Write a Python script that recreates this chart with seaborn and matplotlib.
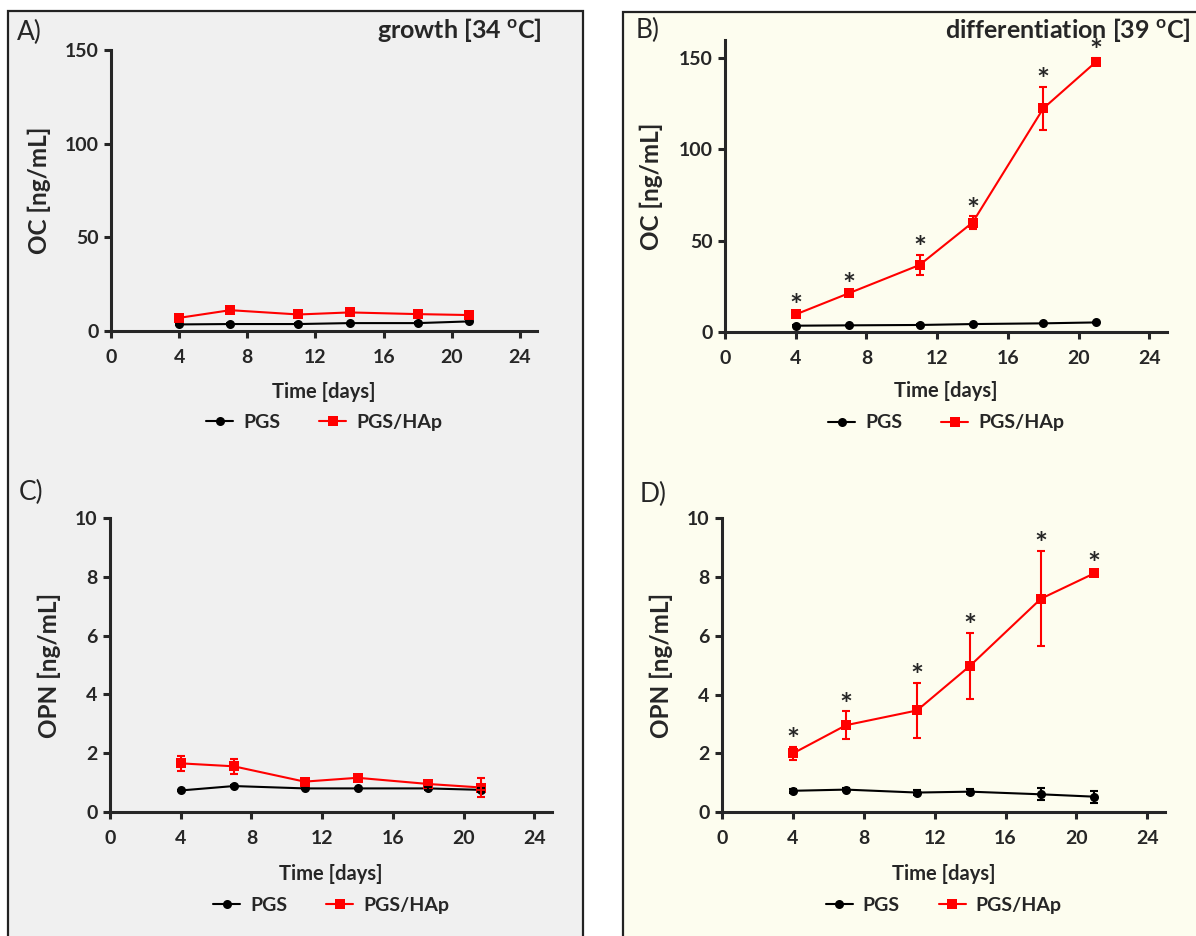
import pandas as pd
import numpy as np
import seaborn as sns
import matplotlib.pyplot as plt
from matplotlib.patches import Rectangle

# Time points
days = [4, 7, 11, 14, 18, 21]
groups = ['PGS', 'PGS/HAp']

# OC, growth [34 C]
oc_growth_pgs = [3.5, 3.7, 3.7, 4.2, 4.2, 5.1]
oc_growth_pgs_sd = [0.3, 0.3, 0.3, 0.3, 0.5, 0.4]
oc_growth_hap = [7.0, 11.1, 8.8, 9.9, 9.0, 8.5]
oc_growth_hap_sd = [0.6, 0.8, 0.5, 0.7, 0.5, 0.6]

# OC, differentiation [39 C]
oc_diff_pgs = [3.3, 3.5, 3.7, 4.2, 4.6, 5.1]
oc_diff_pgs_sd = [0.3, 0.3, 0.3, 0.3, 0.4, 0.4]
oc_diff_hap = [9.5, 21.1, 36.6, 59.9, 122.5, 148.2]
oc_diff_hap_sd = [1.0, 1.0, 5.5, 3.5, 12.0, 2.0]

# OPN, growth [34 C]
opn_growth_pgs = [0.74, 0.89, 0.81, 0.81, 0.81, 0.76]
opn_growth_pgs_sd = [0.03, 0.03, 0.03, 0.03, 0.04, 0.08]
opn_growth_hap = [1.66, 1.56, 1.04, 1.17, 0.96, 0.84]
opn_growth_hap_sd = [0.26, 0.25, 0.05, 0.10, 0.05, 0.32]

# OPN, differentiation [39 C]
opn_diff_pgs = [0.73, 0.77, 0.67, 0.70, 0.61, 0.53]
opn_diff_pgs_sd = [0.07, 0.06, 0.10, 0.08, 0.20, 0.20]
opn_diff_hap = [2.0, 2.96, 3.46, 4.98, 7.26, 8.12]
opn_diff_hap_sd = [0.23, 0.48, 0.95, 1.13, 1.62, 0.10]

sns.set_style('ticks')
plt.rcParams['font.family'] = ['Lato', 'DejaVu Sans']
plt.rcParams['font.weight'] = 'bold'
plt.rcParams['axes.labelweight'] = 'bold'
plt.rcParams['mathtext.fontset'] = 'custom'
plt.rcParams['mathtext.bf'] = 'Lato:bold'
plt.rcParams['mathtext.rm'] = 'Lato:bold'

palette = {'PGS': 'black', 'PGS/HAp': '#ff0000'}
markers = {'PGS': 'o', 'PGS/HAp': 's'}

fig = plt.figure(figsize=(11.96, 9.36), dpi=100)

# panel backgrounds
fig.patches.append(Rectangle((8 / 1196, -0.01), 575 / 1196, 1 - 11 / 936 + 0.01,
                             transform=fig.transFigure, facecolor='#f0f0f0',
                             edgecolor='#222222', lw=1.6, zorder=-1))
fig.patches.append(Rectangle((623 / 1196, -0.01), 0.5, 1 - 12 / 936 + 0.01,
                             transform=fig.transFigure, facecolor='#fdfdef',
                             edgecolor='#222222', lw=1.6, zorder=-1))

panels = [
    # rect, pgs, pgs_sd, hap, hap_sd, ylim, yticks, ylabel, stars, ylab_x, xlab_y, leg_y
    ([0.0928, 0.6464, 0.3562, 0.3002], oc_growth_pgs, oc_growth_pgs_sd,
     oc_growth_hap, oc_growth_hap_sd, 150, [0, 50, 100, 150], 'OC [ng/mL]', False,
     -0.14, -0.18, -0.26),
    ([0.6062, 0.6456, 0.3696, 0.3116], oc_diff_pgs, oc_diff_pgs_sd,
     oc_diff_hap, oc_diff_hap_sd, 160, [0, 50, 100, 150], 'OC [ng/mL]', True,
     -0.14, -0.17, -0.25),
    ([0.0920, 0.1322, 0.3696, 0.3147], opn_growth_pgs, opn_growth_pgs_sd,
     opn_growth_hap, opn_growth_hap_sd, 10, [0, 2, 4, 6, 8, 10], 'OPN [ng/mL]', False,
     -0.11, -0.175, -0.255),
    ([0.6037, 0.1322, 0.3704, 0.3143], opn_diff_pgs, opn_diff_pgs_sd,
     opn_diff_hap, opn_diff_hap_sd, 10, [0, 2, 4, 6, 8, 10], 'OPN [ng/mL]', True,
     -0.11, -0.175, -0.255),
]

for rect, pgs, pgs_sd, hap, hap_sd, ytop, yticks, ylabel, stars, ylx, xly, legy in panels:
    ax = fig.add_axes(rect)
    ax.set_facecolor('none')
    ax.set_zorder(1)
    df = pd.DataFrame({
        'Time': days * 2,
        'value': pgs + hap,
        'sd': pgs_sd + hap_sd,
        'group': ['PGS'] * len(days) + ['PGS/HAp'] * len(days),
    })
    sns.lineplot(data=df, x='Time', y='value', hue='group', style='group',
                 markers=markers, dashes=False, palette=palette, ax=ax,
                 linewidth=1.5, markersize=6.5, markeredgewidth=0, errorbar=None)
    for g in groups:
        sub = df[df['group'] == g]
        ax.errorbar(sub['Time'], sub['value'], yerr=sub['sd'], fmt='none',
                    ecolor=palette[g], elinewidth=1.5, capsize=3, capthick=1.5)
    if stars:
        # significance marks above the PGS/HAp error bars
        for x, y, e in zip(days, hap, hap_sd):
            ax.annotate('*', (x, y + e), xytext=(0, -2.5), textcoords='offset points',
                        ha='center', va='baseline', fontsize=22, fontweight='bold')

    ax.set_xlim(0, 25)
    ax.set_ylim(0, ytop)
    ax.set_xticks(range(0, 25, 4))
    ax.set_yticks(yticks)
    sns.despine(ax=ax)
    for s in ['left', 'bottom']:
        ax.spines[s].set_linewidth(2.2)
    ax.tick_params(direction='out', length=5, width=2.2, labelsize=14)
    ax.tick_params(axis='x', pad=8)
    ax.tick_params(axis='y', pad=4)
    ax.set_xlabel('Time [days]', fontsize=14.5)
    ax.set_ylabel(ylabel, fontsize=17.5)
    ax.yaxis.set_label_coords(ylx, 0.5)
    ax.xaxis.set_label_coords(0.5, xly)

    handles, labels = ax.get_legend_handles_labels()
    ax.legend(handles, labels, loc='upper center', bbox_to_anchor=(0.5, legy),
              ncol=2, frameon=False, fontsize=14, handlelength=1.4,
              handletextpad=0.5, columnspacing=2.0, borderpad=0)

# panel tags and titles
fig.text(17 / 1196, 1 - 32 / 936, 'A)', fontsize=19, fontweight='normal', va='center')
fig.text(636 / 1196, 1 - 30 / 936, 'B)', fontsize=19, fontweight='normal', va='center')
fig.text(19 / 1196, 1 - 492 / 936, 'C)', fontsize=19, fontweight='normal', va='center')
fig.text(640 / 1196, 1 - 494 / 936, 'D)', fontsize=19, fontweight='normal', va='center')
fig.text(542 / 1196, 1 - 38 / 936, r'growth [34 $^{\mathbf{o}}$C]', fontsize=18,
         ha='right', va='baseline')
fig.text(1190 / 1196, 1 - 38 / 936, r'differentiation [39 $^{\mathbf{o}}$C]', fontsize=18,
         ha='right', va='baseline')

plt.savefig('out.png', dpi=100)
